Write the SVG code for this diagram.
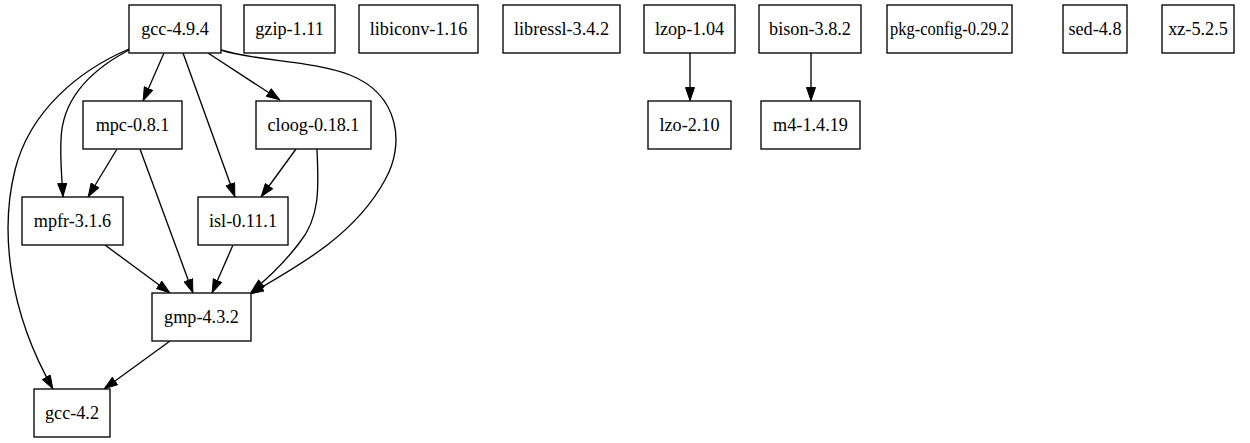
<svg xmlns="http://www.w3.org/2000/svg" width="1250" height="443" viewBox="0 0 1250 443">
<style>
.n rect{fill:#fff;stroke:#000;stroke-width:1.33}
.n text{font-family:"Liberation Serif","Times New Roman",serif;font-size:18.2px;text-anchor:middle;fill:#000}
#edges path{fill:none;stroke:#000;stroke-width:1.33;marker-end:url(#ah)}
</style>
<defs>
<marker id="ah" viewBox="0 0 14 10" refX="14" refY="5" markerWidth="14" markerHeight="10" markerUnits="userSpaceOnUse" orient="auto">
<path d="M0.5,0.5 L13.5,5 L0.5,9.5 z" fill="#000" stroke="#000" stroke-width="1"/>
</marker>
</defs>
<rect width="1250" height="443" fill="#fff"/>
<g id="edges">
<path d="M164,53 L143,101"/>
<path d="M208,53 L280,100"/>
<path d="M183,53 L235,197"/>
<path d="M129,50 C95,68 62,95 61,140 C60,160 62,180 63,197"/>
<path d="M129,49 C80,70 30,110 15,170 C0,230 8,310 53,389"/>
<path d="M221,50 C260,62 310,60 350,75 C400,95 405,145 385,180 C355,235 300,265 250,294"/>
<path d="M317,149 C318,180 322,215 300,242 C288,258 272,275 251,292"/>
<path d="M117,149 L88,197"/>
<path d="M140,149 L193,293"/>
<path d="M296,149 L261,197"/>
<path d="M105,245 L170,293"/>
<path d="M233,245 L212,293"/>
<path d="M170,341 L104,389"/>
<path d="M690,53 L690,101"/>
<path d="M811,53 L811,101"/>
</g>
<g id="gcc-4.9.4" class="n"><rect x="129" y="5" width="92" height="48"/><text x="175" y="35">gcc-4.9.4</text></g>
<g id="gzip-1.11" class="n"><rect x="244" y="5" width="91" height="48"/><text x="289.5" y="35">gzip-1.11</text></g>
<g id="libiconv-1.16" class="n"><rect x="359" y="5" width="119" height="48"/><text x="418.5" y="35">libiconv-1.16</text></g>
<g id="libressl-3.4.2" class="n"><rect x="503" y="5" width="117" height="48"/><text x="561.5" y="35">libressl-3.4.2</text></g>
<g id="lzop-1.04" class="n"><rect x="644" y="5" width="91" height="48"/><text x="689.5" y="35">lzop-1.04</text></g>
<g id="bison-3.8.2" class="n"><rect x="759" y="5" width="102" height="48"/><text x="810" y="35">bison-3.8.2</text></g>
<g id="pkg-config-0.29.2" class="n"><rect x="887" y="5" width="125" height="48"/><text x="949.5" y="35" textLength="119" lengthAdjust="spacingAndGlyphs">pkg-config-0.29.2</text></g>
<g id="sed-4.8" class="n"><rect x="1063" y="5" width="64" height="48"/><text x="1095" y="35">sed-4.8</text></g>
<g id="xz-5.2.5" class="n"><rect x="1162" y="5" width="72" height="48"/><text x="1198" y="35">xz-5.2.5</text></g>
<g id="mpc-0.8.1" class="n"><rect x="83" y="101" width="99" height="48"/><text x="132.5" y="131">mpc-0.8.1</text></g>
<g id="cloog-0.18.1" class="n"><rect x="256" y="101" width="115" height="48"/><text x="313.5" y="131">cloog-0.18.1</text></g>
<g id="lzo-2.10" class="n"><rect x="648" y="101" width="83" height="48"/><text x="689.5" y="131">lzo-2.10</text></g>
<g id="m4-1.4.19" class="n"><rect x="761" y="101" width="99" height="48"/><text x="810.5" y="131">m4-1.4.19</text></g>
<g id="mpfr-3.1.6" class="n"><rect x="22" y="197" width="101" height="48"/><text x="72.5" y="227">mpfr-3.1.6</text></g>
<g id="isl-0.11.1" class="n"><rect x="198" y="197" width="90" height="48"/><text x="243" y="227">isl-0.11.1</text></g>
<g id="gmp-4.3.2" class="n"><rect x="152" y="293" width="99" height="48"/><text x="201.5" y="323">gmp-4.3.2</text></g>
<g id="gcc-4.2" class="n"><rect x="34" y="389" width="76" height="48"/><text x="72" y="419">gcc-4.2</text></g>
</svg>
